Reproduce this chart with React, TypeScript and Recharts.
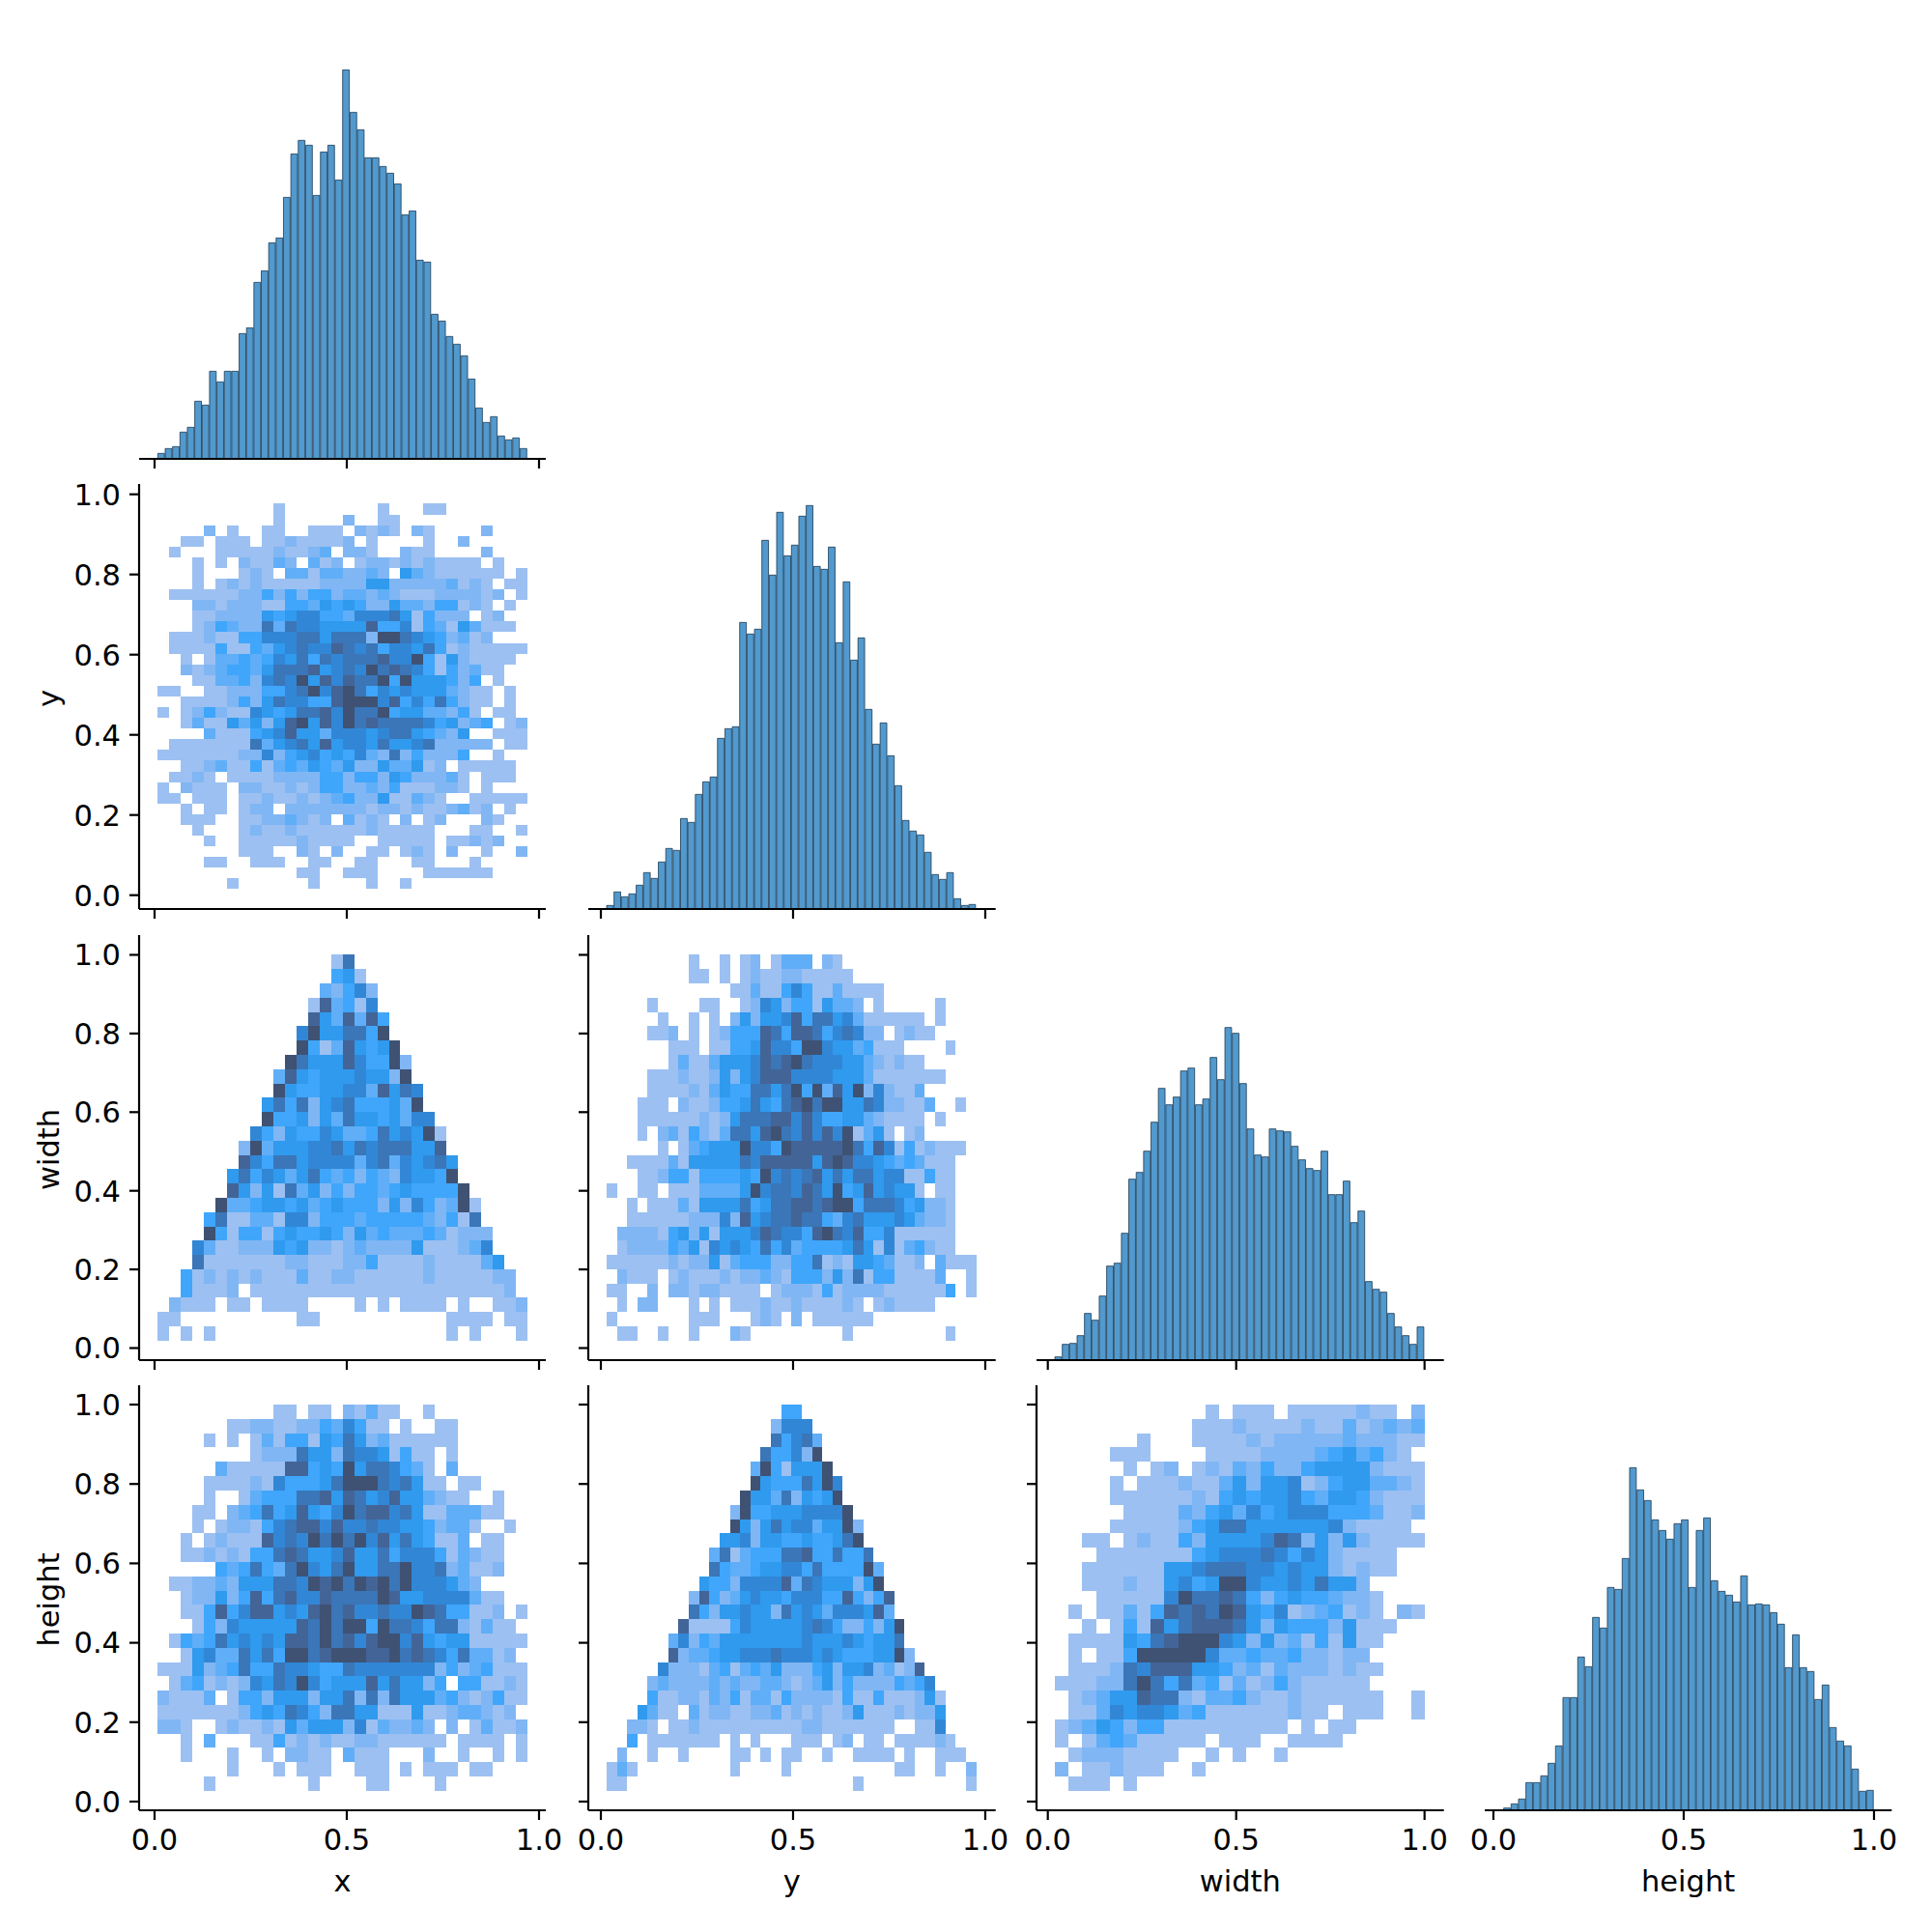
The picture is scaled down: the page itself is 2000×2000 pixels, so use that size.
import { BarChart, Bar, ScatterChart, Scatter, XAxis, YAxis, Label } from "recharts"

// counts per bin
const xCounts = [17,32,38,83,98,179,167,272,239,272,272,389,407,548,584,671,686,812,947,989,974,818,953,974,866,1208,1076,1022,935,935,908,887,854,758,770,617,611,449,428,380,356,320,248,158,113,131,71,59,65,32]
const yCounts = [11,53,38,47,74,113,95,146,188,182,281,269,356,395,410,530,560,566,890,854,869,1145,1037,1232,1097,1130,1220,1253,1064,1055,1124,827,1016,773,842,620,512,578,476,383,275,242,230,176,107,92,113,32,11,14]
const widthCounts = [10,49,52,76,145,124,199,292,301,394,562,583,649,739,844,793,817,898,907,793,811,940,871,1033,1015,859,718,637,631,718,712,709,664,622,595,589,649,514,514,556,427,463,244,220,211,145,103,76,49,103]
const heightCounts = [7,20,35,86,86,107,146,200,350,350,476,446,599,566,692,686,782,1064,995,962,902,869,842,890,902,692,869,908,713,680,668,647,728,638,641,638,614,578,443,545,443,431,344,389,257,215,200,128,59,62]

// density levels per cell, 1 (few) to 9 (many), '.' is an empty bin; first row is the top of the panel
const yByX = [
  "..........1........1...11.......",
  "..........1.....2..11...........",
  "....2.1..11..111.2121.21....2...",
  "..11.111.11211112.1....1..2.....",
  ".1...1111121123.221..211....2...",
  "...1.1.21132.312.12212121111.1..",
  "...1...121.331332232.532111111.1",
  "...1.121211111222255222223121.11",
  ".11111122424244233232111222212.1",
  "...22122211443545422533244121.1.",
  "...112222545664436667514222.12..",
  "...1243227376655558446143153111.",
  ".1112114466677577729976542312...",
  ".1111411435676687674665741211111",
  "..1.133434657476777866941521111.",
  "..2123443577785676978764142311..",
  "...1133426769586877949555424.1..",
  "11..1122244679689746565553211.1.",
  "..111124257664489996846474211.1.",
  "1.12421165457786977945533241.11.",
  "..131153525895869787777645234.12",
  "....31114568553666567754325..111",
  ".1111111735675856657556722222.11",
  "111111122624564546327242224..1..",
  "..11231141343543522533512.11111.",
  ".1121.111122224424425422231.111.",
  "1.2111.22112124422324111221.1...",
  "11.111.112112123422511321..11111",
  "..1.11.122.222222212212112312.1.",
  "..111..11223212.3121.2.12...21..",
  "...1...12112111111211111...11..1",
  "....1..1111121111..11111.11212..",
  ".......111..21.2..11.121.2..1..2",
  "....11..111..11..11...11...1....",
  "............11..111....111111...",
  "......1......1....1..1..........",
]
const widthByX = [
  "...............17...............",
  "...............451..............",
  "..............32462.............",
  ".............183416.............",
  ".............8538384............",
  "............69557749............",
  "............941385459...........",
  "...........97555864492..........",
  "..........385455565529..........",
  "..........9544556638576.........",
  ".........57472567444539.........",
  ".........944525375545366........",
  "........64254465334756591.......",
  ".......293555667576777558.......",
  ".......8647756666367365675......",
  "......57465357434243265549......",
  "......852517352424434544449.....",
  ".....93345545345444252642391....",
  "....471133166244434444432417....",
  "....9414414544542534333431222...",
  "...63112225452212322225111236...",
  "...711111112211122411112111135..",
  "..41212121113112211111121111122.",
  "..41112.11111111111111111111112.",
  ".2111.11.1111....1.1.1111.1..112",
  "11..........11...........1111.11",
  "1.1.1....................1.1...1",
]
const widthByY = [
  "........1..1.12.1333.21.............",
  "........11.1.12112211111............",
  "............113114641131111.........",
  "....1....11..126524415332.1.....1...",
  ".....1..1.1.2525568477563111111.1...",
  "....112.1.12444874887467622.1211....",
  "......111.1144586649965534111....1..",
  "......1311355568789766655321211.....",
  "....11121125256888666655531111111...",
  "....111121354477579493859262113.....",
  "...111.2112445754789799557622113..1.",
  "...1111112125777886864455321111.1...",
  "...1.23142137758976868691351.12.....",
  ".....1.1345559664988888974861412111.",
  "..11113155555768888858986654343111..",
  "...1124414444549676785757756611411..",
  "1..11.1113333596776875945856551.11..",
  "..1.111315555745778878994777645221..",
  "..11111122262856778774367555653221..",
  ".222214525155568766489768446111111..",
  ".122224351656547463444457516134211..",
  "1111112122513444224471215543112.3111",
  ".2111.121112122321444252714411113..1",
  "11..2.221221111.122214122221111114.1",
  ".1.22...1.1.1112112111121.121111....",
  "1.......111...121.2.111111..........",
  ".11..1..1...21.........1.........1..",
]
const heightByX = [
  "..........11.11.21311..1........",
  "......11221122436411.1..11......",
  "....1.1.131441547523111111......",
  "........1222755276651411.1......",
  ".....3111118845495776431.3......",
  "....111121644457999767511.11....",
  "....1..13444778587568553211..1..",
  "...11.234745854697886751133311..",
  "...1.12214678868667665542331..1.",
  "..1.12111867697979685754113.11..",
  "..1121214478755685574666413211..",
  ".....4347437965795577966723112..",
  ".112232555776989798979666532....",
  "..1225248478668777798556666311..",
  "..1148468856589786676698744112.1",
  "...1426555558797994977647721311.",
  ".1434756565887978689968545511111",
  "..15633757499789998897876473312.",
  "11152347447665447666666624234111",
  ".134121265769645558575524.441121",
  "21113.14425552557272755534212411",
  "1111111245476427755111511233212.",
  "221..1211215355526132232.2.13112",
  "..1.3...11412121122111111.1111.1",
  "..1...1..1.2211.3111...2..1..1.1",
  "......1...1.111..111.1.111.11...",
  "....1........1....11....1.......",
]
const heightByY = [
  ".................44.................",
  "................2666................",
  "................74673...............",
  "...............744629...............",
  "..............39415559..............",
  "..............954447596.............",
  ".............9553725459.............",
  "............294455566669............",
  "............9525756635592...........",
  "...........55625544544579...........",
  "..........3713444778447447..........",
  "..........74334556647444493.........",
  ".........544266668376555259.........",
  "........28423565546664484248........",
  "........74255655275653666583........",
  ".......8111146555556764224259.......",
  "......36243555555556555654557.......",
  "......823345566676665654445592......",
  ".....62221341343522245255623128.....",
  "....2322223232233212352422224346....",
  "....41122132413314222214114111251...",
  "...5311.3122112231212112511121225...",
  "..221.1121111111111221111111..116...",
  "..4.1111111.1.1...111.12.11.111121..",
  ".2..1..1....11.1.11..1..1111.1..111.",
  "131.........1....1..........11..1..2",
  "11......................1..........1",
]
const heightByWidth = [
  "...........1.111.11111211.2",
  "..........11121111211312323",
  "......1...11112122222322211",
  "....111....111122223453421.",
  ".....1.12.12132422455552111",
  "....1.111211352556124553321",
  "....11111121454556435542111",
  ".....1111324536456664443112",
  "....1111124577555555621111.",
  "..11.1211425555687252521111",
  "...1111111456667646521111..",
  "..11111155677766565521211..",
  "..111211564599655657552....",
  "...111116977874245443221...",
  ".1.113148787985461234121.21",
  "..1.141857888752544425111..",
  ".11115478999652523141511...",
  ".1.11499999633433422122....",
  ".11127688855423132221211...",
  "11122797473413124211111....",
  ".12355877213342112111111..1",
  ".1136566534111111211.111..1",
  "12354244111111111.1.11.....",
  "1.134311111.111..1111......",
  ".12221111..1.1..1..........",
  "2.112111..1................",
  ".111.1.....................",
]

const tickValues = [0, 0.5, 1]
const yTickValues = [0, 0.2, 0.4, 0.6, 0.8, 1]
const levelColors = ["#ffffff", "#9cc0f1", "#80b6f4", "#60aef7", "#3fa6fb", "#2f9aee", "#3187d6", "#3a76b8", "#436497", "#3f5273"]

// range each variable's bins cover
const binRange = {
  x: [0.0084, 0.97],
  y: [0.015, 0.9766],
  width: [0.0188, 1],
  height: [0.027, 1],
}
type VarName = keyof typeof binRange

const HIST_BINS = 50
const HIST_MAX = 1320
const AXIS_W = 120
const AXIS_H = 100
const PAD = 10
const PAD_R = 40
const PLOT_H = 440
const FONT = "'DejaVu Sans', sans-serif"
const FONT_SIZE = 30.5
const EDGE = 2.2

const columns = [
  { left: 144, width: 421, domain: [-0.0402, 1.0176] },
  { left: 609, width: 421.7, domain: [-0.0327, 1.027] },
  { left: 1073.3, width: 421.7, domain: [-0.03, 1.0513] },
  { left: 1537, width: 421.3, domain: [-0.0228, 1.0465] },
]
const rowsLayout = [
  { top: 35, domain: [0, 1] },
  { top: 501, domain: [-0.0345, 1.0258] },
  { top: 968, domain: [-0.0307, 1.0503] },
  { top: 1434, domain: [-0.0219, 1.0487] },
]

const axisProps = {
  stroke: "#000",
  axisLine: { stroke: "#000", strokeWidth: EDGE },
  tickLine: { stroke: "#000", strokeWidth: EDGE },
  tickSize: 10,
}
const tickStyle = { fill: "#000", fontSize: FONT_SIZE, fontFamily: FONT }
const blankLabel = () => ""
const oneDecimal = (v: number) => v.toFixed(1)

function heatCells(rows: string[], xVar: VarName, yVar: VarName) {
  const [x0, x1] = binRange[xVar]
  const [y0, y1] = binRange[yVar]
  const nx = rows[0].length
  const ny = rows.length
  const cells: { x: number; y: number; level: number }[] = []
  rows.forEach((row, r) => {
    row.split("").forEach((ch, c) => {
      if (ch === ".") return
      cells.push({
        x: x0 + ((c + 0.5) * (x1 - x0)) / nx,
        y: y1 - ((r + 0.5) * (y1 - y0)) / ny,
        level: Number(ch),
      })
    })
  })
  return cells
}

function xTitle(text: string, col: number) {
  const c = columns[col]
  return (
    <Label
      content={() => (
        <text x={AXIS_W + c.width / 2} y={PAD + PLOT_H + 84} textAnchor="middle" fontFamily={FONT} fontSize={FONT_SIZE} fill="#000">
          {text}
        </text>
      )}
    />
  )
}

function yTitle(text: string) {
  const cy = PAD + PLOT_H / 2 + 2
  return (
    <Label
      content={() => (
        <text transform={`translate(37,${cy}) rotate(-90)`} textAnchor="middle" fontFamily={FONT} fontSize={FONT_SIZE} fill="#000">
          {text}
        </text>
      )}
    />
  )
}

function Hist({ counts, name, col, row, title }: { counts: number[]; name: VarName; col: number; row: number; title?: string }) {
  const c = columns[col]
  const [lo, hi] = binRange[name]
  const data = counts.map((count, i) => ({ x: lo + ((i + 0.5) * (hi - lo)) / HIST_BINS, count }))
  const pxPerUnit = c.width / (c.domain[1] - c.domain[0])
  return (
    <div style={{ position: "absolute", left: c.left - AXIS_W, top: rowsLayout[row].top - PAD }}>
      <BarChart width={AXIS_W + c.width + PAD_R} height={PAD + PLOT_H + AXIS_H} data={data} margin={{ top: PAD, right: PAD_R, left: AXIS_W, bottom: 0 }}>
        <XAxis
          dataKey="x"
          type="number"
          domain={c.domain}
          ticks={tickValues}
          interval={0}
          height={AXIS_H}
          tick={tickStyle}
          tickMargin={9}
          tickFormatter={title ? oneDecimal : blankLabel}
          {...axisProps}
        >
          {title ? xTitle(title, col) : null}
        </XAxis>
        <YAxis hide type="number" domain={[0, HIST_MAX]} />
        <Bar
          dataKey="count"
          barSize={((hi - lo) / HIST_BINS) * pxPerUnit}
          fill="#5299cd"
          stroke="#1c3a54"
          strokeWidth={0.8}
          isAnimationActive={false}
        />
      </BarChart>
    </div>
  )
}

function Heat({ rows, xVar, yVar, col, row, xName, yName }: { rows: string[]; xVar: VarName; yVar: VarName; col: number; row: number; xName?: string; yName?: string }) {
  const c = columns[col]
  const r = rowsLayout[row]
  const [x0, x1] = binRange[xVar]
  const [y0, y1] = binRange[yVar]
  const cellW = ((x1 - x0) / rows[0].length) * (c.width / (c.domain[1] - c.domain[0]))
  const cellH = ((y1 - y0) / rows.length) * (PLOT_H / (r.domain[1] - r.domain[0]))
  const drawCell = (p: any) => (
    <rect x={p.cx - cellW / 2} y={p.cy - cellH / 2} width={cellW} height={cellH} fill={levelColors[p.payload.level]} shapeRendering="crispEdges" />
  )
  return (
    <div style={{ position: "absolute", left: c.left - AXIS_W, top: r.top - PAD }}>
      <ScatterChart width={AXIS_W + c.width + PAD_R} height={PAD + PLOT_H + AXIS_H} margin={{ top: PAD, right: PAD_R, left: 0, bottom: 0 }}>
        <XAxis
          dataKey="x"
          type="number"
          domain={c.domain}
          ticks={tickValues}
          interval={0}
          height={AXIS_H}
          tick={tickStyle}
          tickMargin={9}
          tickFormatter={xName ? oneDecimal : blankLabel}
          {...axisProps}
        >
          {xName ? xTitle(xName, col) : null}
        </XAxis>
        <YAxis
          dataKey="y"
          type="number"
          domain={r.domain}
          ticks={yTickValues}
          interval={0}
          width={AXIS_W}
          tick={tickStyle}
          tickMargin={9}
          tickFormatter={yName ? oneDecimal : blankLabel}
          {...axisProps}
        >
          {yName ? yTitle(yName) : null}
        </YAxis>
        <Scatter data={heatCells(rows, xVar, yVar)} shape={drawCell} isAnimationActive={false} />
      </ScatterChart>
    </div>
  )
}

export default function App() {
  return (
    <div style={{ position: "absolute", left: 0, top: 0, width: 2000, height: 2000, background: "#fff", overflow: "hidden" }}>
      <Hist counts={xCounts} name="x" col={0} row={0} />
      <Heat rows={yByX} xVar="x" yVar="y" col={0} row={1} yName="y" />
      <Hist counts={yCounts} name="y" col={1} row={1} />
      <Heat rows={widthByX} xVar="x" yVar="width" col={0} row={2} yName="width" />
      <Heat rows={widthByY} xVar="y" yVar="width" col={1} row={2} />
      <Hist counts={widthCounts} name="width" col={2} row={2} />
      <Heat rows={heightByX} xVar="x" yVar="height" col={0} row={3} xName="x" yName="height" />
      <Heat rows={heightByY} xVar="y" yVar="height" col={1} row={3} xName="y" />
      <Heat rows={heightByWidth} xVar="width" yVar="height" col={2} row={3} xName="width" />
      <Hist counts={heightCounts} name="height" col={3} row={3} title="height" />
    </div>
  )
}
